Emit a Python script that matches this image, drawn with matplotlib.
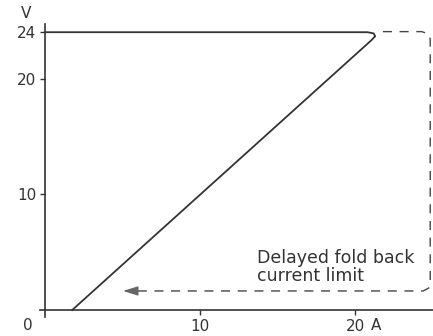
import matplotlib
matplotlib.use('Agg')
import matplotlib.pyplot as plt

# solid V/I characteristic (rounded corner at the current limit)
solid_i = [0.0, 20.8, 21.2, 21.3, 21.05, 1.75]
solid_v = [24.0, 24.0, 23.9, 23.65, 23.3, 0.0]

# dashed fold back path
fold_i = [21.8, 24.3, 24.75, 24.85, 24.85, 24.75, 24.4, 5.9]
fold_v = [24.05, 24.05, 23.85, 23.4, 2.3, 1.9, 1.65, 1.65]
arrow_tip = (4.85, 1.65)

yticks = [10, 20, 24]
xticks = [10, 20]

fig = plt.figure(figsize=(4.33, 3.36), dpi=100)
ax = fig.add_axes([0.0932, 0.0565, 0.9068, 0.8735])
ax.set_xlim(-0.3, 25.03)
ax.set_ylim(-0.6, 24.75)

for s in ['top', 'right']:
    ax.spines[s].set_visible(False)
ax.spines['left'].set_position(('data', 0))
ax.spines['bottom'].set_position(('data', 0))
for s in ['left', 'bottom']:
    ax.spines[s].set_linewidth(1.2)
    ax.spines[s].set_color('#333333')

ax.set_yticks(yticks)
ax.set_yticklabels([str(t) for t in yticks])
ax.set_xticks(xticks)
ax.set_xticklabels([str(t) for t in xticks])
ax.tick_params(direction='out', length=3.6, width=1, color='#333333',
               labelsize=11, labelcolor='#333333', pad=2.5)

ax.plot(solid_i, solid_v, '-', color='#333333', lw=1.3, solid_joinstyle='round')
ax.plot(fold_i, fold_v, color='#444444', lw=1.0, linestyle=(0, (6.5, 5.5)))
ax.annotate('', xy=arrow_tip, xytext=(6.2, arrow_tip[1]),
            arrowprops=dict(arrowstyle='-|>,head_length=0.9,head_width=0.28',
                            color='#666666', lw=1.0))

ax.text(-1.25, 25.0, 'V', fontsize=11, color='#333333', ha='center', va='bottom')
ax.text(-0.77, -0.69, '0', fontsize=11, color='#333333', ha='right', va='top')
ax.text(21.0, -0.69, 'A', fontsize=11, color='#333333', ha='left', va='top')
ax.text(13.7, 5.3, 'Delayed fold back\ncurrent limit', fontsize=12.5,
        color='#333333', ha='left', va='top', linespacing=1.0)

fig.savefig('out.png', dpi=100)
